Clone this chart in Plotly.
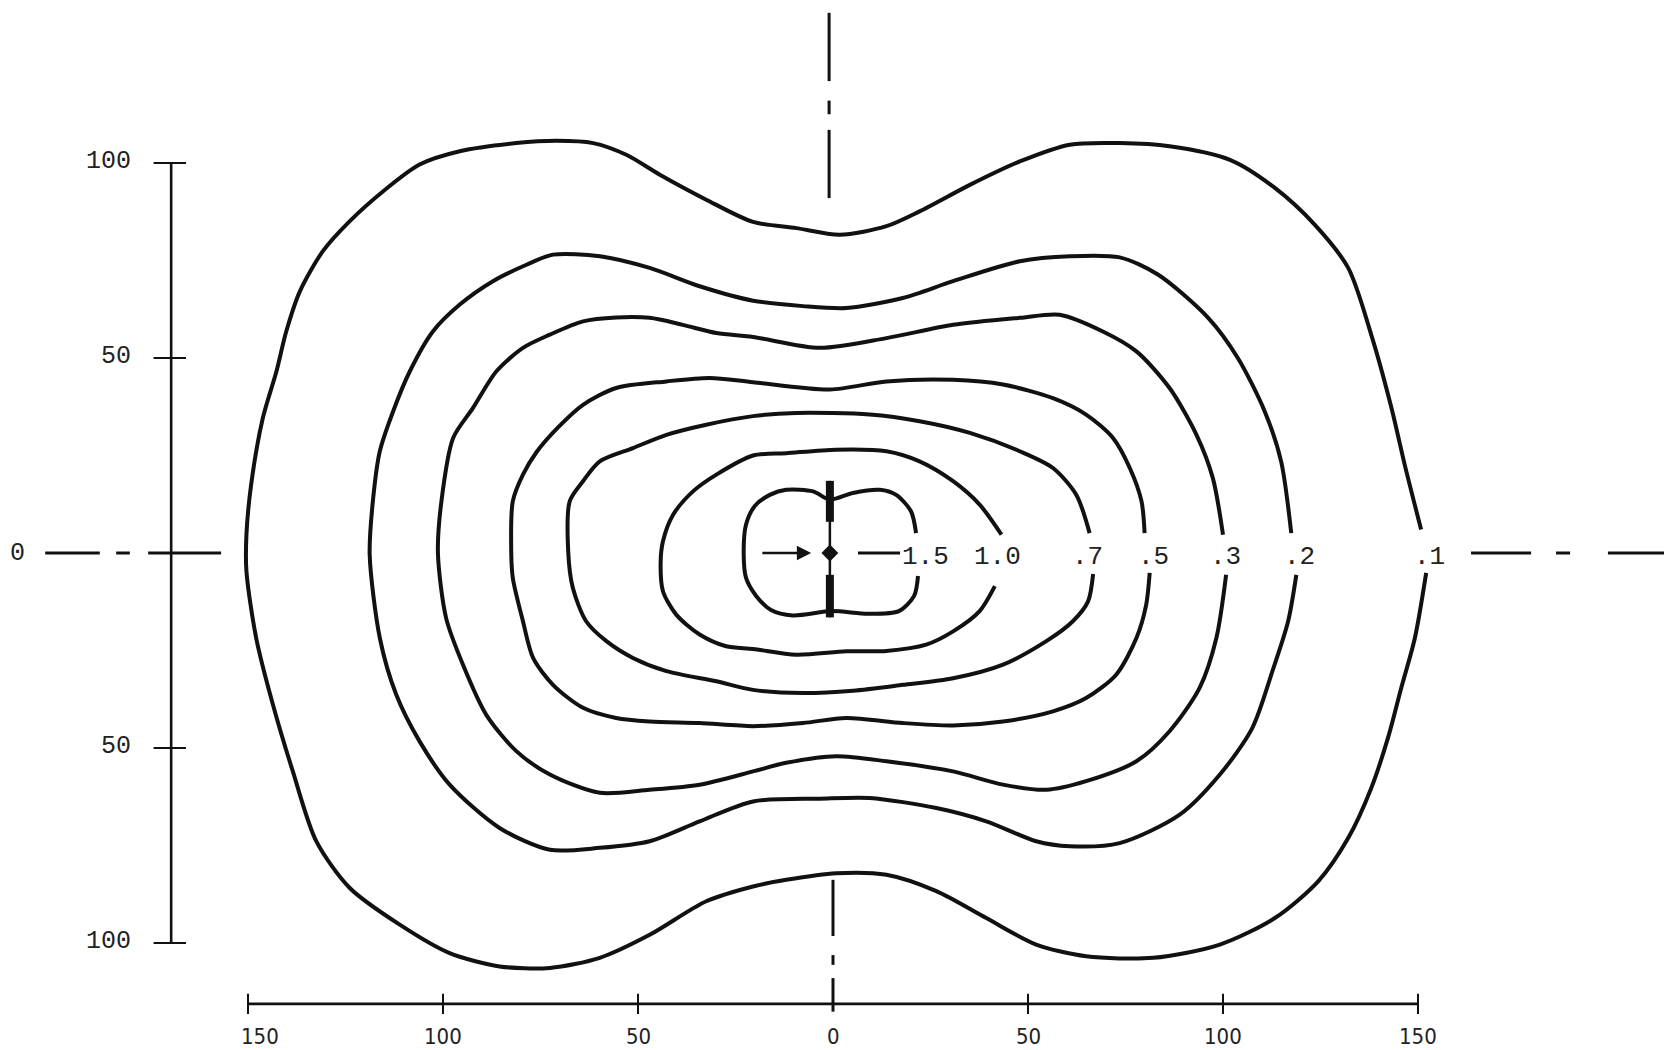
import plotly.graph_objects as go

# isodose levels, labelled on the right-hand side along the central axis
levels = [".1", ".2", ".3", ".5", ".7", "1.0", "1.5"]
label_x = [153.0, 119.7, 100.6, 82.3, 65.2, 42.1, 23.6]
label_y = -0.9

# contour traces (mm), each open at its label gap
iso_01_x = [150.8, 146.6, 143.2, 138.0, 132.1, 123.5, 113.3, 101.8, 86.3, 73.5, 60.7, 47.9, 35.1, 22.2, 13.7, 1.7,
            -9.4, -20.5, -32.5, -44.4, -53.0, -61.5, -70.9, -81.2, -95.7, -106.0, -115.4, -123.9, -130.8, -136.7,
            -140.2, -142.7, -146.2, -149.2, -150.4, -150.4, -147.9, -143.6, -138.5, -132.5, -123.9, -111.1, -98.3,
            -85.5, -72.6, -59.8, -47.0, -32.5, -20.5, -12.0, 0.8, 13.7, 26.5, 39.3, 52.1, 64.9, 82.1, 99.2, 113.3,
            124.4, 132.1, 138.0, 142.3, 145.7, 149.2, 152.1]
iso_01_y = [6.0, 22.6, 37.2, 56.0, 73.1, 84.2, 93.6, 100.8, 104.3, 105.1, 104.7, 100.4, 94.4, 87.6, 83.8, 81.6,
            83.3, 84.9, 90.6, 97.0, 102.1, 105.1, 105.7, 105.1, 103.0, 99.6, 92.7, 85.1, 77.4, 67.1,
            56.8, 46.6, 34.6, 17.5, 4.7, -4.7, -21.8, -38.9, -56.0, -73.9, -85.9, -95.3, -102.6,
            -106.0, -106.4, -103.8, -97.9, -89.3, -85.5, -83.8, -82.1, -82.5, -86.7, -93.6, -100.4, -103.4, -103.8,
            -100.4, -93.6, -84.2, -73.1, -60.3, -47.4, -34.6, -21.8, -5.1]

iso_02_x = [117.5, 114.9, 110.7, 103.8, 96.2, 83.3, 73.5, 60.7, 47.9, 30.8, 17.9, 3.4, -7.7, -20.5, -34.2, -47.0,
            -59.8, -71.8, -78.6, -87.2, -95.7, -102.6, -108.5, -112.8, -116.2, -117.9, -118.8, -116.2, -112.0,
            -106.0, -98.3, -85.5, -72.6, -59.8, -47.0, -34.2, -20.5, -3.4, 9.4, 26.5, 39.3, 52.1, 60.7, 73.5, 88.9,
            99.2, 107.5, 112.8, 116.7, 118.8]
iso_02_y = [5.1, 23.5, 36.3, 50.0, 60.3, 71.4, 75.8, 76.1, 74.8, 69.7, 65.4, 62.8, 63.3, 64.7, 68.4, 73.1,
            76.1, 76.5, 73.9, 69.7, 63.7, 56.8, 46.6, 36.3, 26.1, 14.1, -0.4, -21.8, -36.3,
            -48.3, -59.4, -70.5, -76.1, -75.6, -73.9, -68.8, -63.7, -63.0, -62.8, -65.4, -68.8, -73.9, -75.2, -74.4,
            -67.1, -56.8, -44.9, -29.9, -17.5, -5.6]

iso_03_x = [100.0, 97.4, 93.2, 86.3, 77.8, 69.2, 58.1, 47.9, 30.8, 13.7, -3.4, -20.5, -29.9, -38.5, -47.0, -55.6,
            -64.1, -72.6, -79.5, -86.3, -92.3, -97.4, -100.4, -101.3, -99.2, -94.9, -88.9, -81.2, -72.6, -59.8,
            -47.0, -34.2, -20.5, -12.0, 0.8, 13.7, 30.8, 43.6, 54.7, 64.9, 77.8, 86.3, 94.0, 98.3, 100.8]
iso_03_y = [4.7, 19.2, 30.3, 42.3, 51.7, 56.8, 61.1, 60.3, 58.5, 55.1, 52.6, 55.4, 56.4, 58.5, 60.3, 60.4,
            59.4, 56.0, 52.6, 46.6, 37.2, 29.5, 13.3, 0.0, -16.7, -28.6, -41.5, -50.8, -56.8, -61.5,
            -60.7, -59.4, -56.0, -53.8, -52.1, -53.4, -56.0, -59.4, -60.7, -58.5, -53.4, -45.7, -34.6, -21.8, -5.6]

iso_05_x = [79.9, 79.1, 76.1, 71.8, 64.9, 56.4, 43.6, 30.8, 13.7, -0.8, -20.5, -31.6, -42.7, -55.6, -64.1, -70.5,
            -76.0, -79.5, -82.1, -82.5, -82.1, -79.5, -76.9, -71.8, -64.1, -55.6, -47.0, -34.2, -20.5, -7.7, 3.4,
            17.9, 30.8, 43.6, 56.4, 64.9, 72.6, 77.8, 80.3, 81.2]
iso_05_y = [5.1, 13.3, 21.8, 29.5, 35.5, 39.7, 43.2, 44.4, 44.0, 41.9, 43.8, 44.9, 44.0, 42.3, 38.0, 32.2,
            25.9, 20.1, 13.3, 0.0, -6.4, -17.5, -26.9, -33.8, -39.7, -42.3, -43.2, -43.6, -44.4, -43.6, -42.3,
            -43.6, -44.2, -43.2, -40.6, -37.2, -31.2, -21.8, -13.3, -5.1]

iso_07_x = [65.8, 62.4, 56.4, 47.9, 35.1, 22.2, 9.4, -9.4, -20.5, -32.5, -42.7, -51.3, -59.8, -64.1, -67.5, -67.9,
            -66.7, -63.3, -58.1, -51.3, -42.7, -29.9, -20.5, -7.7, 5.1, 17.9, 30.8, 43.6, 54.7, 61.5, 65.4, 66.7]
iso_07_y = [5.1, 14.9, 21.8, 26.1, 30.8, 33.8, 35.5, 35.9, 35.1, 32.9, 30.3, 26.9, 23.5, 18.4, 13.3, 0.5,
            -9.0, -17.5, -22.6, -26.9, -30.3, -32.9, -35.1, -35.9, -35.3, -33.8, -32.1, -28.6, -22.6, -17.5,
            -12.4, -5.4]

iso_10_x = [43.2, 37.6, 30.8, 22.2, 13.7, 0.8, -12.0, -20.5, -29.9, -35.9, -41.0, -43.6, -44.2, -43.6, -40.2,
            -34.2, -27.4, -20.5, -9.4, 3.4, 13.7, 23.9, 30.8, 37.6, 41.5]
iso_10_y = [4.7, 12.4, 18.4, 23.5, 26.1, 26.5, 25.6, 25.0, 20.1, 15.8, 9.8, 3.0, -2.6, -9.8, -15.8,
            -20.9, -23.9, -24.6, -26.1, -25.2, -25.1, -23.5, -20.1, -14.9, -8.5]

iso_15_x = [21.3, 20.0, 16.2, 12.0, 5.1, -0.8, -5.1, -12.0, -16.2, -20.0, -22.3, -22.9, -22.3, -19.7, -15.9,
            -10.3, -0.3, 9.0, 16.9, 20.8, 21.8]
iso_15_y = [5.1, 10.7, 14.9, 16.2, 15.4, 13.7, 15.8, 16.2, 14.9, 12.1, 7.3, -0.4, -6.4, -11.0, -14.6,
            -16.0, -14.9, -15.6, -14.9, -11.0, -5.9]

# scale bars
x_ticks = [-150, -100, -50, 0, 50, 100, 150]
x_tick_text = ["150", "100", "50", "0", "50", "100", "150"]
y_ticks = [100, 50, 0, -50, -100]
y_tick_text = ["100", "50", "0", "50", "100"]

contours = [(iso_01_x, iso_01_y), (iso_02_x, iso_02_y), (iso_03_x, iso_03_y), (iso_05_x, iso_05_y),
            (iso_07_x, iso_07_y), (iso_10_x, iso_10_y), (iso_15_x, iso_15_y)]

INK = "#111111"
fig = go.Figure()


def segs(pairs_x, pairs_y, width, color=INK):
    xs, ys = [], []
    for (x0, x1), (y0, y1) in zip(pairs_x, pairs_y):
        xs += [x0, x1, None]
        ys += [y0, y1, None]
    fig.add_trace(go.Scatter(x=xs, y=ys, mode="lines", line=dict(color=color, width=width),
                             hoverinfo="skip", showlegend=False))


for cx, cy in contours:
    fig.add_trace(go.Scatter(x=cx, y=cy, mode="lines",
                             line=dict(color=INK, width=4, shape="spline", smoothing=0.8),
                             hoverinfo="skip", showlegend=False))

for lev, lx in zip(levels, label_x):
    fig.add_annotation(x=lx, y=label_y, text=lev, showarrow=False,
                       font=dict(family="Liberation Mono, Courier New, monospace", size=26, color="#222"))

# central axis (horizontal, y = 0) with gaps
segs([(-202, -188), (-183.8, -180.3), (-175.6, -156.9), (6.4, 17.2), (163.6, 179), (185.4, 189), (198.7, 218)],
     [(0, 0)] * 7, 3)
fig.add_annotation(x=-5.6, y=0, ax=-18.5, ay=0, axref="x", ayref="y", xref="x", yref="y",
                   showarrow=True, arrowhead=2, arrowsize=1.1, arrowwidth=2.6, arrowcolor=INK, text="")

# vertical dash-dot axis (x = 0)
segs([(-1.0, -1.0), (-1.0, -1.0), (-1.0, -1.0), (0, 0), (0, 0), (0, 0)],
     [(138.5, 121), (116, 112.5), (108.5, 91), (-83.8, -98.2), (-103.1, -105.6), (-109, -117.6)], 3)

# source: line between two dark seeds, centre marker
segs([(-0.8, -0.8)], [(18.5, -16.5)], 2.5)
segs([(-0.8, -0.8), (-0.8, -0.8)], [(18.5, 8.0), (-5.6, -16.5)], 8)
fig.add_trace(go.Scatter(x=[-0.8], y=[0], mode="markers",
                         marker=dict(symbol="diamond", size=13, color=INK), hoverinfo="skip", showlegend=False))

# bottom scale
AXY = -115.6
segs([(x_ticks[0], x_ticks[-1])], [(AXY, AXY)], 2.6)
segs([(t, t) for t in x_ticks if t != 0], [(AXY - 2.6, AXY + 2.6)] * (len(x_ticks) - 1), 2)
for t, s in zip(x_ticks, x_tick_text):
    fig.add_annotation(x=t + (3 if t == -150 else 0), y=-124.0, text=s, showarrow=False, borderpad=0,
                       font=dict(family="Liberation Sans Narrow, DejaVu Sans Condensed, Liberation Sans",
                                 size=22, color="#222"))

# left scale
AXX = -169.7
segs([(AXX, AXX)], [(y_ticks[0], y_ticks[-1])], 2.6)
segs([(AXX - 4.5, AXX + 3.8)] * len(y_ticks), [(t, t) for t in y_ticks], 2.2)
for t, s in zip(y_ticks, y_tick_text):
    if t == 0:
        fig.add_annotation(x=-209, y=t, text=s, showarrow=False,
                           font=dict(family="Liberation Mono, monospace", size=25, color="#222"))
    else:
        fig.add_annotation(x=-179.5, y=t + 0.5, text=s, showarrow=False, xanchor="right",
                           font=dict(family="Liberation Mono, monospace", size=25, color="#222"))

fig.update_layout(
    width=1672, height=1050,
    margin=dict(l=0, r=0, t=0, b=0),
    paper_bgcolor="white", plot_bgcolor="white",
    xaxis=dict(range=[-825 / 3.9, 847 / 3.9], visible=False, fixedrange=True),
    yaxis=dict(range=[-505 / 3.9, 545 / 3.9], visible=False, fixedrange=True),
    showlegend=False,
)

fig.write_html("out.html")
